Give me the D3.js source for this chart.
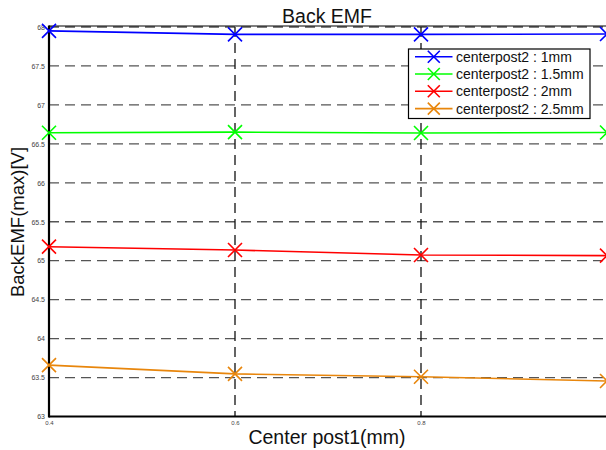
<!DOCTYPE html>
<html><head><meta charset="utf-8">
<script src="https://cdn.jsdelivr.net/npm/d3@7"></script>
<style>body{margin:0;background:#fff;}svg{display:block;font-family:"Liberation Sans",Arial,sans-serif;}</style>
</head><body>
<svg id="c" width="606" height="450"></svg>
<script>
const xValues = [0.4, 0.6, 0.8, 1.0];
const seriesNames = ["centerpost2 : 1mm", "centerpost2 : 1.5mm", "centerpost2 : 2mm", "centerpost2 : 2.5mm"];
const seriesColors = ["#0000ff", "#00ff00", "#ff0000", "#e8860c"];
const s1mm = [67.95, 67.905, 67.905, 67.91];
const s15mm = [66.643, 66.65, 66.64, 66.645];
const s2mm = [65.18, 65.137, 65.073, 65.065];
const s25mm = [63.66, 63.547, 63.51, 63.456];
const yTicks = [63, 63.5, 64, 64.5, 65, 65.5, 66, 66.5, 67, 67.5, 68];
const xTicks = [0.4, 0.6, 0.8];
const series = [s1mm, s15mm, s2mm, s25mm];

const svg = d3.select("#c");
const L = 49, R = 607, T = 27, B = 416.5;
const x = d3.scaleLinear().domain([0.4, 1.0]).range([L, R]);
const y = d3.scaleLinear().domain([63, 68]).range([B, T]);

// grid
svg.append("g").selectAll("line").data(yTicks.slice(1)).join("line")
  .attr("x1", L).attr("x2", R).attr("y1", d => y(d)).attr("y2", d => y(d))
  .attr("stroke", "#555").attr("stroke-width", 1.3).attr("stroke-dasharray", "10,6");
svg.append("g").selectAll("line").data(xTicks.slice(1)).join("line")
  .attr("x1", d => x(d)).attr("x2", d => x(d)).attr("y1", T).attr("y2", B)
  .attr("stroke", "#111").attr("stroke-width", 1.3).attr("stroke-dasharray", "10,6");

// top border
svg.append("line").attr("x1", L).attr("x2", R).attr("y1", T - 1).attr("y2", T - 1).attr("stroke", "#000").attr("stroke-width", 1);

// axes
const yAxis = d3.axisLeft(y).tickValues(yTicks).tickSize(0).tickPadding(4).tickFormat(d3.format("~g"));
const gy = svg.append("g").attr("transform", `translate(${L},0)`).call(yAxis);
gy.select(".domain").remove();
gy.selectAll("text").attr("font-size", 7).attr("fill", "#444").attr("font-family", "Liberation Sans, Arial, sans-serif");
const xAxis = d3.axisBottom(x).tickValues(xTicks).tickSize(0).tickPadding(4).tickFormat(d3.format("~g"));
const gx = svg.append("g").attr("transform", `translate(0,${B})`).call(xAxis);
gx.select(".domain").remove();
gx.selectAll("text").attr("font-size", 6).attr("fill", "#444").attr("font-family", "Liberation Sans, Arial, sans-serif");

svg.append("line").attr("x1", L).attr("x2", L).attr("y1", T - 1.5).attr("y2", B + 1).attr("stroke", "#000").attr("stroke-width", 2.2);
svg.append("line").attr("x1", L).attr("x2", R).attr("y1", B).attr("y2", B).attr("stroke", "#000").attr("stroke-width", 2.2);

// series
const line = d3.line().x((d, i) => x(xValues[i])).y(d => y(d));
const m = 7;
series.forEach((s, k) => {
  svg.append("path").attr("d", line(s)).attr("fill", "none").attr("stroke", seriesColors[k]).attr("stroke-width", 1.6);
  const g = svg.append("g");
  s.forEach((v, i) => {
    const cx = x(xValues[i]), cy = y(v);
    g.append("path").attr("d", `M${cx - m},${cy - m}L${cx + m},${cy + m}M${cx - m},${cy + m}L${cx + m},${cy - m}`)
      .attr("stroke", seriesColors[k]).attr("stroke-width", 1.6).attr("fill", "none");
  });
});

// legend
const lg = svg.append("g");
lg.append("rect").attr("x", 408.5).attr("y", 49).attr("width", 181.5).attr("height", 69.5)
  .attr("fill", "#fff").attr("stroke", "#000").attr("stroke-width", 1.2);
seriesNames.forEach((n, k) => {
  const cy = 56.7 + k * 17.3;
  lg.append("line").attr("x1", 415).attr("x2", 452.5).attr("y1", cy).attr("y2", cy).attr("stroke", seriesColors[k]).attr("stroke-width", 1.6);
  const cx = 433.8, mm = 6;
  lg.append("path").attr("d", `M${cx - mm},${cy - mm}L${cx + mm},${cy + mm}M${cx - mm},${cy + mm}L${cx + mm},${cy - mm}`)
    .attr("stroke", seriesColors[k]).attr("stroke-width", 1.6);
  lg.append("text").attr("x", 456).attr("y", cy + 5).attr("font-size", 14).attr("fill", "#111").text(n);
});

// titles
svg.append("text").attr("x", 327).attr("y", 23).attr("text-anchor", "middle").attr("font-size", 19.5).attr("fill", "#111").text("Back EMF");
svg.append("text").attr("x", 327).attr("y", 444).attr("text-anchor", "middle").attr("font-size", 19.5).attr("fill", "#111").text("Center post1(mm)");
svg.append("text").attr("transform", "translate(24,222) rotate(-90)").attr("text-anchor", "middle").attr("font-size", 18.5).attr("fill", "#111").text("BackEMF(max)[V]");
</script>
</body></html>
